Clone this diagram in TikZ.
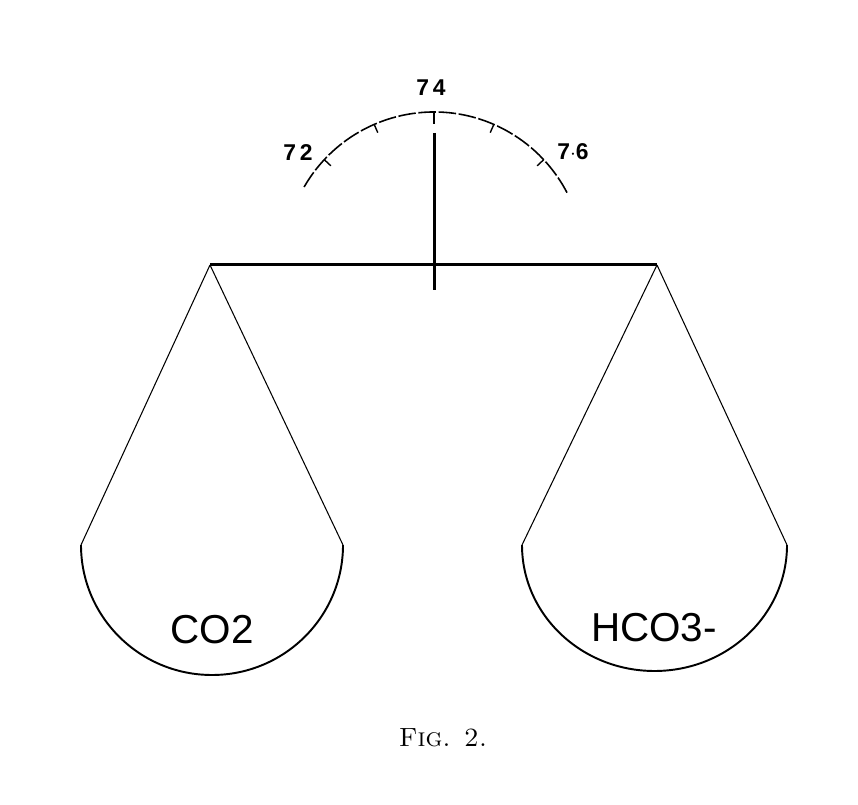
\documentclass[tikz,border=0pt]{standalone}
\usepackage{fontspec}
\usepackage{tikz}
\usetikzlibrary{calc,positioning}
\newfontfamily\labfont{Liberation Sans}
\tikzset{
  beam/.style={line width=1.7pt,black},
  cord/.style={line width=0.6pt,black},
  pan/.style={line width=1.1pt,black},
  dial/.style={line width=0.9pt,black,dash pattern=on 10pt off 1.5pt},
  tick/.style={line width=0.8pt,black},
  num/.style={font=\labfont\bfseries\fontsize{13}{15}\selectfont,inner sep=0pt},
  load/.style={font=\labfont\fontsize{23}{26}\selectfont,inner sep=0pt}
}

\begin{document}
\begin{tikzpicture}[x=0.02cm,y=0.02cm]
\useasboundingbox (0,0) rectangle (858,804);
\coordinate (piv) at (434,539);
\coordinate (bl) at (210,539);
\coordinate (br) at (657,539);
\coordinate (ptop) at (434,671);
\coordinate (pbot) at (434,514);
\coordinate (dc) at (434,542);
% beam and pointer
\draw[beam] (bl) -- (br);
\draw[beam] (ptop) -- (pbot);
% dial
\draw[dial] ($(dc)+(150:150)$) arc[start angle=150,end angle=27,radius=150];
\foreach \a in {43,66.5,113.5,137}
  \draw[tick] ($(dc)+(\a:150)$) -- ($(dc)+(\a:141)$);
\draw[tick,line width=1.2pt] ($(dc)+(90:150)$) -- ($(dc)+(90:138)$);
\node[num] (n72) at (298,651) {7\,2};
\node[num] (n74) at (431,716) {7\,4};
\node[num] (n76) at (573,652) {7$\cdot$6};
% left pan
\coordinate (la) at (81,259);
\coordinate (lb) at (343,259);
\draw[cord] (bl) -- (la);
\draw[cord] (bl) -- (lb);
\draw[pan] (la) arc[start angle=180,end angle=360,x radius=131,y radius=130];
\node[load] (co2) at (212,174) {CO2};
% right pan
\coordinate (ra) at (522,259);
\coordinate (rb) at (787,259);
\draw[cord] (br) -- (ra);
\draw[cord] (br) -- (rb);
\draw[pan] (ra) arc[start angle=180,end angle=360,x radius=132.5,y radius=126];
\node[load] (hco3) at (654,176) {HCO3-};
% caption
\node[font=\fontsize{15}{18}\selectfont,inner sep=0pt] (cap) at (443,66) {\textsc{Fig. 2.}};
\end{tikzpicture}
\end{document}
